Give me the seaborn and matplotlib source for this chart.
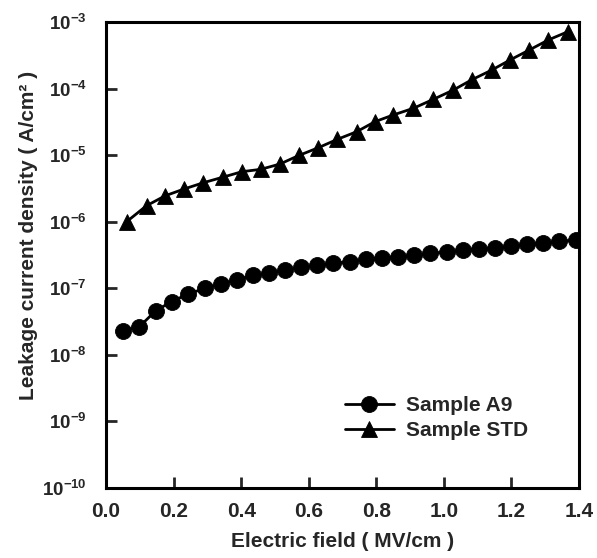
import matplotlib
matplotlib.use("Agg")
import matplotlib.pyplot as plt
import seaborn as sns
import pandas as pd

# ---- data ----
a9_field = [0.051, 0.099, 0.147, 0.194, 0.243, 0.293, 0.339, 0.387, 0.434, 0.482,
            0.530, 0.578, 0.625, 0.673, 0.721, 0.770, 0.818, 0.865, 0.913, 0.960,
            1.008, 1.056, 1.104, 1.152, 1.199, 1.247, 1.294, 1.342, 1.390]
a9_current = [2.3e-8, 2.65e-8, 4.6e-8, 6.3e-8, 8.2e-8, 1.0e-7, 1.16e-7, 1.33e-7, 1.56e-7, 1.68e-7,
              1.88e-7, 2.06e-7, 2.21e-7, 2.37e-7, 2.51e-7, 2.72e-7, 2.88e-7, 2.99e-7, 3.13e-7, 3.35e-7,
              3.51e-7, 3.76e-7, 3.89e-7, 4.07e-7, 4.27e-7, 4.57e-7, 4.79e-7, 5.07e-7, 5.3e-7]

std_field = [0.061, 0.120, 0.175, 0.231, 0.288, 0.345, 0.402, 0.458, 0.515, 0.571,
             0.628, 0.685, 0.742, 0.796, 0.850, 0.910, 0.969, 1.028, 1.082, 1.142,
             1.196, 1.253, 1.309, 1.367]
std_current = [1.0e-6, 1.74e-6, 2.45e-6, 3.1e-6, 3.85e-6, 4.65e-6, 5.64e-6, 6.12e-6, 7.36e-6, 9.9e-6,
               1.29e-5, 1.73e-5, 2.25e-5, 3.18e-5, 4.01e-5, 5.06e-5, 6.9e-5, 9.5e-5, 1.35e-4, 1.9e-4,
               2.69e-4, 3.8e-4, 5.37e-4, 7.15e-4]

series_names = ["Sample A9", "Sample STD"]
x_ticks = [0.0, 0.2, 0.4, 0.6, 0.8, 1.0, 1.2, 1.4]
x_tick_labels = ["0.0", "0.2", "0.4", "0.6", "0.8", "1.0", "1.2", "1.4"]
y_exponents = [-10, -9, -8, -7, -6, -5, -4, -3]

df = pd.DataFrame({
    "field": a9_field + std_field,
    "current": a9_current + std_current,
    "Sample": [series_names[0]] * len(a9_field) + [series_names[1]] * len(std_field),
})

sns.set_style("white")
plt.rcParams["font.family"] = ["Liberation Sans", "DejaVu Sans"]
plt.rcParams["font.weight"] = "bold"
plt.rcParams["mathtext.fontset"] = "custom"
plt.rcParams["mathtext.rm"] = "Liberation Sans:bold"
plt.rcParams["mathtext.bf"] = "Liberation Sans:bold"
plt.rcParams["mathtext.it"] = "Liberation Sans:bold"

fig = plt.figure(figsize=(5.97, 5.58), dpi=100)
ax = fig.add_axes([106 / 597, 1 - 488 / 558, 473 / 597, 466 / 558])

sns.lineplot(data=df, x="field", y="current", hue="Sample", style="Sample",
             markers={"Sample A9": "o", "Sample STD": "^"}, dashes=False,
             palette={"Sample A9": "black", "Sample STD": "black"},
             markersize=11.5, markeredgecolor="black", markeredgewidth=0.6,
             linewidth=2.0, sort=True, estimator=None, ax=ax)

ax.set_yscale("log")
ax.set_xlim(0, 1.4)
ax.set_ylim(1e-10, 1e-3)

ax.set_xticks(x_ticks)
ax.set_xticklabels(x_tick_labels, fontsize=15, fontweight="bold")
ax.set_yticks([10.0 ** e for e in y_exponents])
ax.set_yticklabels([r"$\mathbf{10^{%d}}$" % e for e in y_exponents], fontsize=13.5)
ax.minorticks_off()
ax.yaxis.set_minor_locator(matplotlib.ticker.NullLocator())

ax.tick_params(axis="both", direction="in", length=8, width=2,
               left=True, bottom=True, top=False, right=False)
ax.tick_params(axis="x", pad=10)
ax.tick_params(axis="y", pad=14)

for s in ax.spines.values():
    s.set_visible(True)
    s.set_color("black")
    s.set_linewidth(2.2)

ax.set_xlabel("Electric field ( MV/cm )", fontsize=15, fontweight="bold")
ax.set_ylabel("Leakage current density ( A/cm\u00b2 )", fontsize=15, fontweight="bold")
ax.xaxis.set_label_coords(0.5, -0.094)
ax.yaxis.set_label_coords(-0.144, 0.543)

leg = ax.legend(loc="upper left", bbox_to_anchor=(0.505, 0.197), frameon=False,
                fontsize=15, handlelength=2.35, handletextpad=0.6,
                labelspacing=0.3, borderpad=0, borderaxespad=0)
for t in leg.get_texts():
    t.set_fontweight("bold")

fig.savefig("out.png", dpi=100)
